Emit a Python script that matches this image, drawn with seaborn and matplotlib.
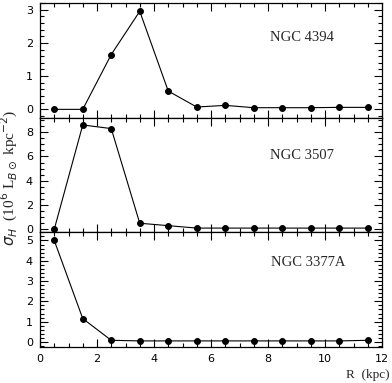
import matplotlib
matplotlib.use("Agg")
import matplotlib.pyplot as plt
import seaborn as sns
import pandas as pd
from matplotlib.ticker import MultipleLocator

R = [0.5, 1.5, 2.5, 3.5, 4.5, 5.5, 6.5, 7.5, 8.5, 9.5, 10.5, 11.5]
ngc4394 = [0.0, 0.0, 1.65, 2.95, 0.55, 0.07, 0.12, 0.05, 0.05, 0.05, 0.06, 0.06]
ngc3507 = [0.0, 8.6, 8.3, 0.5, 0.3, 0.1, 0.1, 0.1, 0.1, 0.1, 0.1, 0.1]
ngc3377a = [5.0, 1.15, 0.08, 0.05, 0.05, 0.05, 0.05, 0.05, 0.05, 0.05, 0.05, 0.08]
names = ["NGC 4394", "NGC 3507", "NGC 3377A"]

sns.set_style("ticks")
plt.rcParams["font.family"] = ["DejaVu Sans"]

fig = plt.figure(figsize=(3.92, 3.83), dpi=100)
left, right = 40 / 392, 382 / 392
top_px, bot_px = 3, 347
h = (bot_px - top_px) / 3

series = [ngc4394, ngc3507, ngc3377a]
ylims = [(-0.25, 3.2), (-0.25, 9.2), (-0.25, 5.4)]
majors = [1, 2, 1]
minors = [0.2, 0.5, 0.2]
label_pos = [(0.673, 0.70), (0.673, 0.668), (0.676, 0.735)]

axes = []
for i, (vals, name) in enumerate(zip(series, names)):
    y0 = 1 - (top_px + (i + 1) * h) / 383
    ax = fig.add_axes([left, y0, right - left, h / 383])
    df = pd.DataFrame({"R": R, "v": vals})
    sns.lineplot(data=df, x="R", y="v", ax=ax, color="black", linewidth=0.8,
                 marker="o", markersize=4.2, markeredgecolor="black",
                 markerfacecolor="black")
    ax.set_xlim(0, 12)
    ax.set_ylim(*ylims[i])
    ax.xaxis.set_major_locator(MultipleLocator(2))
    ax.xaxis.set_minor_locator(MultipleLocator(0.5))
    ax.yaxis.set_major_locator(MultipleLocator(majors[i]))
    ax.yaxis.set_minor_locator(MultipleLocator(minors[i]))
    ax.tick_params(which="both", direction="in", top=True, right=True,
                   labelsize=8, width=0.8, color="black", labelcolor="black",
                   pad=5)
    ax.tick_params(which="major", length=6)
    ax.tick_params(which="minor", length=3)
    for s in ax.spines.values():
        s.set_linewidth(0.9)
        s.set_color("black")
    ax.set_xlabel("")
    ax.set_ylabel("")
    if i < 2:
        ax.tick_params(labelbottom=False)
    ax.text(label_pos[i][0], label_pos[i][1], name, transform=ax.transAxes,
            fontsize=10.5, family="Liberation Serif", ha="left", va="center")
    axes.append(ax)

axes[1].set_ylabel(r"$\sigma_H$  (10$^6$ L$_{B\odot}$ kpc$^{-2}$)",
                   fontsize=11, family="Liberation Serif", va="center")
axes[1].yaxis.set_label_coords(-0.088, 0.474)
axes[2].set_xlabel("R  (kpc)", fontsize=9.5, family="Liberation Serif",
                   ha="right", va="center")
axes[2].xaxis.set_label_coords(1.023, -0.244)

fig.savefig("out.png", dpi=100)
